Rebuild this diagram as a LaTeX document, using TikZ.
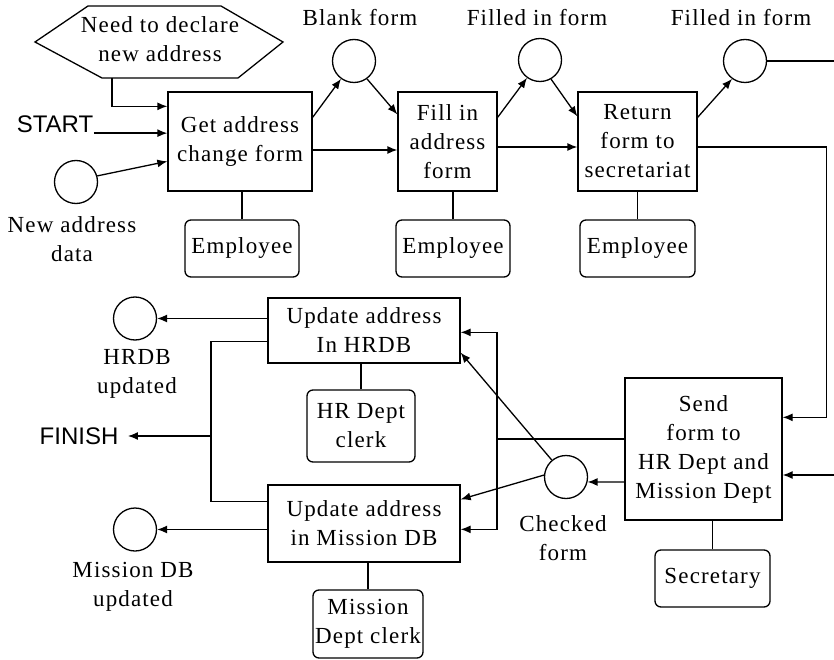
\documentclass[tikz,border=0pt]{standalone}
\usepackage{fontspec}
\setmainfont{Liberation Serif}[LetterSpace=5]
\newfontfamily\labsans{Liberation Sans}
\usetikzlibrary{arrows.meta,calc}

\begin{document}
\begin{tikzpicture}[x=1pt,y=-1pt,
  line width=1.3pt,
  every node/.style={font=\fontsize{23}{29}\selectfont, inner sep=0pt, align=center},
  proc/.style={draw, rectangle},
  role/.style={draw, rounded corners=6pt},
  token/.style={draw, circle, minimum size=43pt},
  terminal/.style={font=\labsans\fontsize{24}{29}\selectfont},
  arr/.style={-{Latex[length=10pt,width=8pt]}}
]
\fill[white] (0,0) rectangle (834,660);
\useasboundingbox (0,0) rectangle (834,660);

% trigger event
\draw (35,42) -- (88,6) -- (221,6) -- (283,42) -- (238,78) -- (102,78) -- cycle;
\node (need) at (160,39) {Need to declare\\new address};
\coordinate (needout) at (112,78);

% processes
\node[proc, minimum width=144pt, minimum height=99pt] (getform) at (240,141.5) {Get address\\change form};
\node[proc, minimum width=99pt, minimum height=99pt] (fillform) at (447.5,141.5) {Fill in\\address\\form};
\node[proc, minimum width=119pt, minimum height=99pt] (retform) at (637.5,141.5) {Return\\form to\\secretariat};
\node[proc, minimum width=157pt, minimum height=142pt] (send) at (703.5,449) {Send\\form to\\HR Dept and\\Mission Dept};
\node[proc, minimum width=192pt, minimum height=65pt] (updhr) at (364,330.5) {Update address\\In HRDB};
\node[proc, minimum width=192pt, minimum height=77pt] (updmi) at (364,523.5) {Update address\\in Mission DB};

% roles
\node[role, minimum width=114pt, minimum height=57pt] (emp1) at (242,248.5) {Employee};
\node[role, minimum width=114pt, minimum height=57pt] (emp2) at (453,248.5) {Employee};
\node[role, minimum width=115pt, minimum height=57pt] (emp3) at (637.5,248.5) {Employee};
\node[role, minimum width=115pt, minimum height=57pt] (secr) at (712.5,578.5) {Secretary};
\node[role, minimum width=108pt, minimum height=72pt] (hrclerk) at (361,426) {HR Dept\\clerk};
\node[role, minimum width=110pt, minimum height=68pt] (miclerk) at (368,624) {Mission\\Dept clerk};

% tokens
\node[token] (newdata) at (76,182) {};
\node[token] (blank) at (354,61) {};
\node[token] (filled1) at (540,60) {};
\node[token] (filled2) at (745,61) {};
\node[token] (checked) at (566,477) {};
\node[token] (hrdone) at (135,318.5) {};
\node[token] (midone) at (135,529.5) {};

% token labels
\node (newdatalbl) at (72,239) {New address\\data};
\node (blanklbl) at (360,18) {Blank form};
\node (filled1lbl) at (537,18) {Filled in form};
\node (filled2lbl) at (741,18) {Filled in form};
\node (checkedlbl) at (563,538) {Checked\\form};
\node (hrdonelbl) at (137,374) {HRDB\\updated};
\node (midonelbl) at (133,587) {Mission DB\\updated};

% start and finish
\node[terminal] (start) at (55,124) {START};
\node[terminal] (finish) at (79,436) {FINISH};

% free ends and junctions
\coordinate (outtop) at (834,61);
\coordinate (inright) at (834,475);
\coordinate (split) at (497,439);
\coordinate (join) at (211,436);

% upper row connectors
\draw[arr] (needout) |- ([yshift=-15pt]getform.north west);
\draw[arr] (start.south east) -- (start.south east -| getform.west);
\draw[arr] (newdata.16) -- ([yshift=-70pt]getform.north west);
\draw[arr] ([yshift=-26pt]getform.north east) -- (blank.234);
\draw[arr] (blank.306) -- ([yshift=-23pt]fillform.north west);
\draw[arr] ([yshift=-8.5pt]getform.east) -- ([yshift=-8.5pt]fillform.west);
\draw[arr] ([yshift=-26pt]fillform.north east) -- (filled1.234);
\draw[arr] (filled1.300) -- ([yshift=-25pt]retform.north west);
\draw[arr] ([yshift=-5.5pt]fillform.east) -- ([yshift=-5.5pt]retform.west);
\draw[arr] ([yshift=-26pt]retform.north east) -- (filled2.234);
\draw (filled2.east) -- (outtop);
\draw[arr] ([yshift=-5.5pt]retform.east) -- ++(129,0) |- ([yshift=-40pt]send.north east);
\draw[arr] (inright) -- (inright -| send.east);

% performer links
\draw (emp1.north) -- (emp1.north |- getform.south);
\draw (emp2.north) -- (emp2.north |- fillform.south);
\draw (emp3.north) -- (emp3.north |- retform.south);
\draw (secr.north) -- (secr.north |- send.south);
\draw (hrclerk.north) -- (hrclerk.north |- updhr.south);
\draw (miclerk.north) -- (miclerk.north |- updmi.south);

% lower part connectors
\draw ([yshift=10pt]send.west) -- (split);
\draw[arr] (split) |- ([yshift=-35pt]updhr.north east);
\draw[arr] (split) |- ([yshift=-45pt]updmi.north east);
\draw[arr] ([yshift=-33pt]send.west) -- (checked.-13);
\draw[arr] (checked.130) -- ([yshift=11pt]updhr.south east);
\draw[arr] (checked.175) -- ([yshift=-15pt]updmi.north east);
\draw[arr] ([yshift=12pt]updhr.west) -- (hrdone.east);
\draw[arr] ([yshift=-6pt]updmi.west) -- (midone.east);
\draw ([yshift=-11pt]updhr.west) -| (join) |- ([yshift=-17pt]updmi.north west);
\draw[arr] (join) -- ([xshift=9pt]finish.east);
\end{tikzpicture}
\end{document}
